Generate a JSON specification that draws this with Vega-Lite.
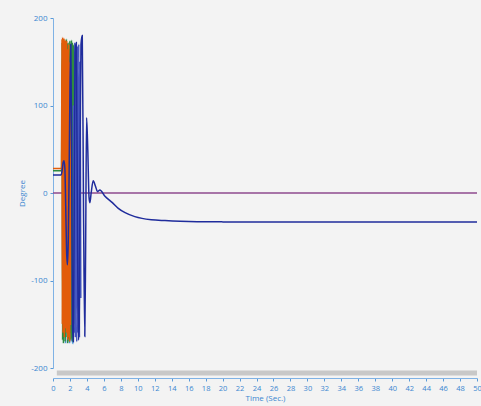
{
  "$schema": "https://vega.github.io/schema/vega-lite/v6.json",
  "width": 424,
  "height": 350,
  "autosize": "none",
  "padding": {"left": 53, "top": 18, "right": 4, "bottom": 38},
  "background": "#f3f3f3",
  "config": {
    "view": {"stroke": null},
    "font": "Open Sans",
    "axis": {
      "domainColor": "#7fb2e5",
      "tickColor": "#5a9ad8",
      "labelColor": "#3a86d0",
      "titleColor": "#3a86d0",
      "labelFontSize": 8,
      "titleFontSize": 8,
      "titleFontWeight": "normal",
      "grid": false,
      "tickSize": 3,
      "labelFlush": false
    },
    "axisX": {"labelOverlap": false, "labelFontSize": 7.5}
  },
  "layer": [
    {
      "data": {
        "values": [
          {"s": "P", "t": 0, "v": 0}, {"s": "P", "t": 50, "v": 0},
          {"s": "LB", "t": 1.30, "v": 160}, {"s": "LB", "t": 1.36, "v": -150}, {"s": "LB", "t": 1.42, "v": 165}, {"s": "LB", "t": 1.48, "v": -172}, {"s": "LB", "t": 1.54, "v": 170}, {"s": "LB", "t": 1.60, "v": -160}, {"s": "LB", "t": 1.66, "v": 162}, {"s": "LB", "t": 1.72, "v": -170}, {"s": "LB", "t": 1.78, "v": 168}, {"s": "LB", "t": 1.84, "v": -165}, {"s": "LB", "t": 1.90, "v": 160}, {"s": "LB", "t": 1.96, "v": -172}, {"s": "LB", "t": 2.02, "v": 165}, {"s": "LB", "t": 2.08, "v": -168}, {"s": "LB", "t": 2.14, "v": 160}, {"s": "LB", "t": 2.20, "v": -170}, {"s": "LB", "t": 2.26, "v": 150}, {"s": "LB", "t": 2.32, "v": -172}, {"s": "LB", "t": 2.40, "v": 120},
          {"s": "G", "t": 0, "v": 25.5}, {"s": "G", "t": 1.0, "v": 25.5}, {"s": "G", "t": 1.08, "v": 172}, {"s": "G", "t": 1.13, "v": -168}, {"s": "G", "t": 1.18, "v": 175}, {"s": "G", "t": 1.23, "v": -172}, {"s": "G", "t": 1.28, "v": 170}, {"s": "G", "t": 1.33, "v": -160}, {"s": "G", "t": 1.38, "v": 174}, {"s": "G", "t": 1.43, "v": -170}, {"s": "G", "t": 1.48, "v": 168}, {"s": "G", "t": 1.53, "v": -165}, {"s": "G", "t": 1.58, "v": 176}, {"s": "G", "t": 1.63, "v": -158}, {"s": "G", "t": 1.68, "v": 170}, {"s": "G", "t": 1.73, "v": -172}, {"s": "G", "t": 1.78, "v": 172}, {"s": "G", "t": 1.83, "v": -166}, {"s": "G", "t": 1.88, "v": 165}, {"s": "G", "t": 1.93, "v": -170}, {"s": "G", "t": 1.98, "v": 174}, {"s": "G", "t": 2.03, "v": -160}, {"s": "G", "t": 2.08, "v": 170}, {"s": "G", "t": 2.13, "v": -168}, {"s": "G", "t": 2.18, "v": 175}, {"s": "G", "t": 2.23, "v": -165}, {"s": "G", "t": 2.28, "v": 172}, {"s": "G", "t": 2.33, "v": -170}, {"s": "G", "t": 2.38, "v": 168}, {"s": "G", "t": 2.43, "v": -160}, {"s": "G", "t": 2.48, "v": 170}, {"s": "G", "t": 2.53, "v": -150}, {"s": "G", "t": 2.58, "v": 150}, {"s": "G", "t": 2.62, "v": -100},
          {"s": "O", "t": 0, "v": 28}, {"s": "O", "t": 1.0, "v": 28}, {"s": "O", "t": 1.06, "v": 176}, {"s": "O", "t": 1.10, "v": -150}, {"s": "O", "t": 1.14, "v": 178}, {"s": "O", "t": 1.18, "v": -160}, {"s": "O", "t": 1.22, "v": 172}, {"s": "O", "t": 1.26, "v": -145}, {"s": "O", "t": 1.30, "v": 177}, {"s": "O", "t": 1.34, "v": -165}, {"s": "O", "t": 1.38, "v": 170}, {"s": "O", "t": 1.42, "v": -155}, {"s": "O", "t": 1.46, "v": 175}, {"s": "O", "t": 1.50, "v": -140}, {"s": "O", "t": 1.54, "v": 168}, {"s": "O", "t": 1.58, "v": -160}, {"s": "O", "t": 1.62, "v": 174}, {"s": "O", "t": 1.66, "v": -150}, {"s": "O", "t": 1.70, "v": 165}, {"s": "O", "t": 1.74, "v": -168}, {"s": "O", "t": 1.78, "v": 160}, {"s": "O", "t": 1.82, "v": -145}, {"s": "O", "t": 1.86, "v": 170}, {"s": "O", "t": 1.90, "v": -165}, {"s": "O", "t": 1.94, "v": 150}, {"s": "O", "t": 1.98, "v": -170}, {"s": "O", "t": 2.02, "v": 120}, {"s": "O", "t": 2.06, "v": -150}, {"s": "O", "t": 2.10, "v": 60},
          {"s": "B2", "t": 2.40, "v": 100}, {"s": "B2", "t": 2.48, "v": -160}, {"s": "B2", "t": 2.56, "v": 172}, {"s": "B2", "t": 2.64, "v": -165}, {"s": "B2", "t": 2.72, "v": 170}, {"s": "B2", "t": 2.80, "v": -170}, {"s": "B2", "t": 2.88, "v": 168}, {"s": "B2", "t": 2.96, "v": -160}, {"s": "B2", "t": 3.04, "v": 170}, {"s": "B2", "t": 3.12, "v": -165}, {"s": "B2", "t": 3.20, "v": 150}, {"s": "B2", "t": 3.28, "v": -120},
          {"s": "B", "t": 0, "v": 20.5}, {"s": "B", "t": 0.95, "v": 20.5}, {"s": "B", "t": 1.05, "v": 24}, {"s": "B", "t": 1.2, "v": 35}, {"s": "B", "t": 1.3, "v": 37}, {"s": "B", "t": 1.4, "v": 28}, {"s": "B", "t": 1.5, "v": -15}, {"s": "B", "t": 1.6, "v": -65}, {"s": "B", "t": 1.7, "v": -82}, {"s": "B", "t": 1.8, "v": -55}, {"s": "B", "t": 1.9, "v": 20}, {"s": "B", "t": 2.0, "v": 120}, {"s": "B", "t": 2.1, "v": 170}, {"s": "B", "t": 2.2, "v": 40}, {"s": "B", "t": 2.3, "v": -150}, {"s": "B", "t": 2.4, "v": -170}, {"s": "B", "t": 2.5, "v": -20}, {"s": "B", "t": 2.6, "v": 160}, {"s": "B", "t": 2.75, "v": 172}, {"s": "B", "t": 2.9, "v": -60}, {"s": "B", "t": 3.0, "v": -168}, {"s": "B", "t": 3.1, "v": -150}, {"s": "B", "t": 3.2, "v": 60}, {"s": "B", "t": 3.3, "v": 170}, {"s": "B", "t": 3.45, "v": 180}, {"s": "B", "t": 3.6, "v": -20}, {"s": "B", "t": 3.75, "v": -164}, {"s": "B", "t": 3.85, "v": -60}, {"s": "B", "t": 3.96, "v": 86}, {"s": "B", "t": 4.1, "v": 50}, {"s": "B", "t": 4.25, "v": -5}, {"s": "B", "t": 4.35, "v": -11}, {"s": "B", "t": 4.5, "v": 0}, {"s": "B", "t": 4.74, "v": 14}, {"s": "B", "t": 5.0, "v": 8}, {"s": "B", "t": 5.26, "v": 1.5}, {"s": "B", "t": 5.53, "v": 3.4}, {"s": "B", "t": 6.1, "v": -3.4}, {"s": "B", "t": 7.0, "v": -11}, {"s": "B", "t": 7.7, "v": -17.5}, {"s": "B", "t": 8.5, "v": -22.5}, {"s": "B", "t": 9.65, "v": -27}, {"s": "B", "t": 10.5, "v": -29}, {"s": "B", "t": 11.6, "v": -30.5}, {"s": "B", "t": 13.2, "v": -31.5}, {"s": "B", "t": 15, "v": -32.3}, {"s": "B", "t": 17, "v": -32.8}, {"s": "B", "t": 20, "v": -33}, {"s": "B", "t": 50, "v": -33}
        ]
      },
      "mark": {"type": "line", "strokeWidth": 1.5, "interpolate": "monotone"},
      "encoding": {
        "x": {
          "field": "t", "type": "quantitative",
          "scale": {"domain": [0, 50], "nice": false},
          "axis": {"title": "Time (Sec.)", "values": [0,2,4,6,8,10,12,14,16,18,20,22,24,26,28,30,32,34,36,38,40,42,44,46,48,50], "tickCount": 30, "labelOverlap": false, "labelFlush": false, "offset": 10, "labelPadding": 3, "titlePadding": 3}
        },
        "y": {
          "field": "v", "type": "quantitative",
          "scale": {"domain": [-200, 200], "nice": false},
          "axis": {"title": "Degree", "values": [-200, -100, 0, 100, 200], "tickCount": 10, "labelFlush": false, "labelExpr": "replace(datum.label, '\u2212', '-')", "titlePadding": 4, "labelPadding": 3}
        },
        "color": {
          "field": "s", "type": "nominal",
          "scale": {"domain": ["P", "LB", "G", "O", "B2", "B"], "range": ["#8e4a8e", "#4a98dc", "#2e8b40", "#e25c0a", "#4658c0", "#1f2c9c"]},
          "legend": null
        }
      }
    },
    {
      "data": {"values": [{"a": 1}]},
      "mark": {"type": "rule", "strokeWidth": 5, "color": "#c8c8c8", "yOffset": 5},
      "encoding": {
        "x": {"datum": 0.45},
        "x2": {"datum": 50},
        "y": {"datum": -200}
      }
    }
  ]
}
